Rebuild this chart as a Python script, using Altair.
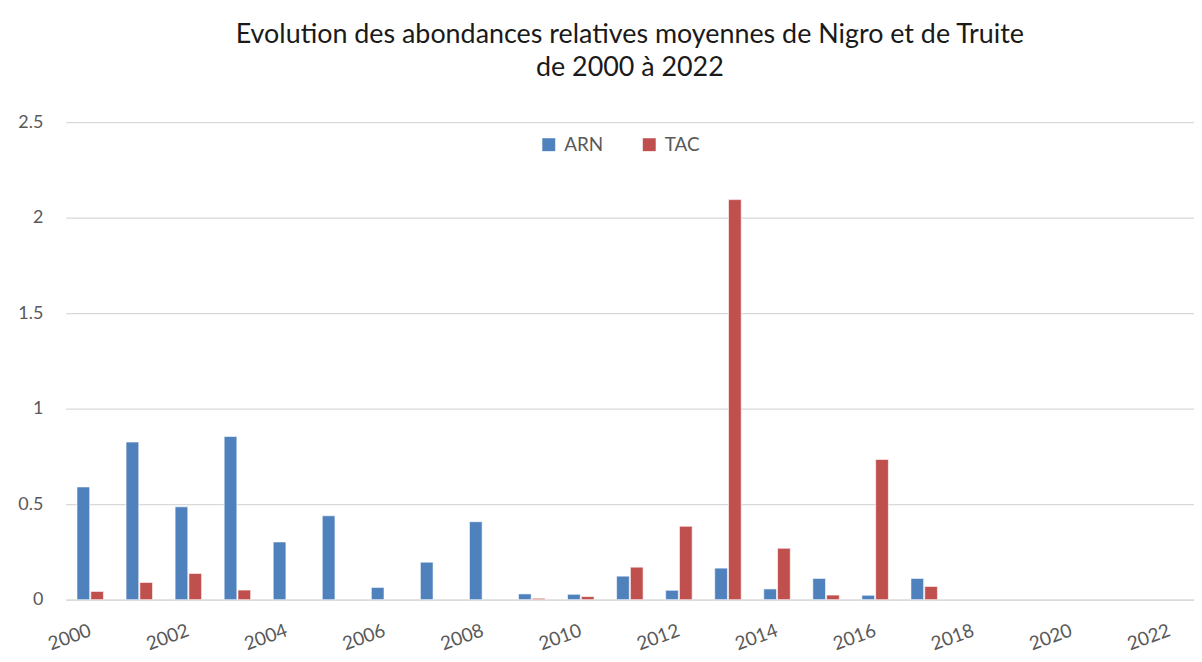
import altair as alt
import pandas as pd

years = [str(y) for y in range(2000, 2018)]
all_years = [str(y) for y in range(2000, 2023)]
tick_years = [str(y) for y in range(2000, 2023, 2)]
arn = [0.59, 0.825, 0.486, 0.854, 0.302, 0.439, 0.064, 0.196, 0.408, 0.03,
       0.028, 0.123, 0.049, 0.165, 0.056, 0.111, 0.023, 0.111]
tac = [0.043, 0.09, 0.137, 0.05, 0, 0, 0, 0, 0, 0.007,
       0.016, 0.17, 0.384, 2.094, 0.269, 0.024, 0.734, 0.069]
series = ["ARN", "TAC"]
colors = ["#4F81BD", "#C0504D"]
y_ticks = [0, 0.5, 1, 1.5, 2, 2.5]

rows = []
for i, y in enumerate(years):
    rows.append({"year": y, "serie": "ARN", "value": arn[i]})
    rows.append({"year": y, "serie": "TAC", "value": tac[i]})
df = pd.DataFrame(rows)

FONT = "Lato"
LABEL = "#595959"
GRID = "#d9d9d9"

chart = alt.Chart(df).transform_filter(
    alt.datum.value > 0
).mark_bar(stroke="white", strokeWidth=0.6).encode(
    x=alt.X("year:O", sort=all_years,
            scale=alt.Scale(domain=all_years, paddingInner=0.46, paddingOuter=0.23),
            axis=alt.Axis(title=None, values=tick_years, labelAngle=340,
                          labelAlign="right", labelBaseline="middle",
                          labelPadding=30, labelFontSize=19, labelFont=FONT,
                          labelColor=LABEL, ticks=False, domainColor=GRID,
                          domainWidth=1.3, grid=False, labelOverlap=False)),
    xOffset=alt.XOffset("serie:N", sort=series,
                        scale=alt.Scale(paddingInner=0.08)),
    y=alt.Y("value:Q", scale=alt.Scale(domain=[0, 2.5], nice=False),
            axis=alt.Axis(title=None, values=y_ticks, format="~g",
                          labelFontSize=18, labelFont=FONT, labelColor=LABEL,
                          labelPadding=23, ticks=False, domain=False,
                          gridColor=GRID, gridWidth=1.3)),
    color=alt.Color("serie:N", sort=series,
                    scale=alt.Scale(domain=series, range=colors),
                    legend=alt.Legend(title=None, orient="none", legendX=476,
                                      legendY=13, direction="horizontal",
                                      symbolType="square", symbolSize=169,
                                      symbolStrokeWidth=0,
                                      labelFontSize=19, labelFont=FONT,
                                      labelColor=LABEL, columnPadding=36,
                                      labelOffset=6)),
).properties(
    width=1134,
    height=480,
    padding={"left": 58, "top": 113, "right": 0, "bottom": 56},
    autosize=alt.AutoSizeParams(type="none"),
    title=alt.TitleParams(
        text=["Evolution des abondances relatives moyennes de Nigro et de Truite",
              "de 2000 à 2022"],
        font=FONT, fontSize=27, fontWeight="normal", color="#1a1a1a",
        anchor="middle", frame="group", offset=31, lineHeight=33),
).configure_view(stroke=None)

chart.save("out.html", embed_options={"renderer": "svg", "actions": False})
